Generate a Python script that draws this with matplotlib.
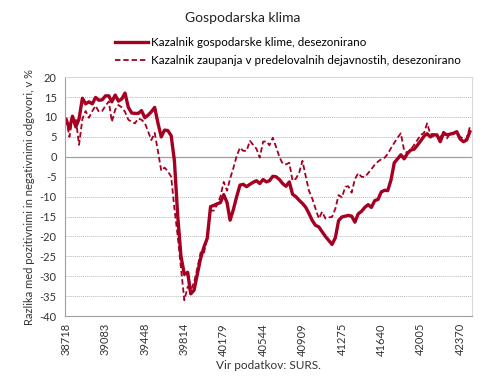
import matplotlib
matplotlib.use('Agg')
import matplotlib.pyplot as plt
import numpy as np
import pandas as pd

# mesečni podatki, januar 2006 - april 2016
meseci = pd.date_range('2006-01-01', periods=124, freq='MS')
x_serial = (meseci - pd.Timestamp('1899-12-30')).days.values  # Excel serijska števila

klima = [
    9.4, 7.0, 10.2, 7.5, 9.5, 14.7, 13.3, 13.8, 13.3, 14.9, 14.2, 14.3,
    15.3, 15.3, 13.8, 15.5, 14.0, 14.5, 16.0, 12.4, 11.0, 10.9, 10.9, 11.6,
    9.8, 10.5, 11.3, 12.4, 8.5, 5.0, 6.7, 6.6, 5.3, -1.0, -15.0, -25.0,
    -29.5, -29.0, -34.4, -33.5, -29.5, -25.5, -22.7, -20.5, -12.5, -12.2, -11.8, -11.5,
    -9.5, -11.5, -15.9, -13.2, -10.0, -7.1, -6.9, -7.5, -6.9, -6.4, -6.0, -6.7,
    -5.7, -6.3, -6.0, -4.9, -5.0, -5.7, -6.7, -7.4, -6.3, -9.4, -10.0, -10.9,
    -11.7, -12.7, -14.2, -16.0, -17.2, -17.6, -18.8, -20.0, -21.0, -22.0, -20.3, -16.0,
    -15.1, -14.9, -14.7, -14.9, -16.4, -14.3, -13.7, -12.7, -12.0, -12.7, -11.0, -10.7,
    -8.8, -8.4, -8.5, -5.8, -1.5, -0.5, 0.5, -0.5, 0.9, 1.7, 1.9, 2.9,
    4.0, 5.2, 5.8, 5.0, 5.5, 5.5, 3.8, 6.0, 5.5, 5.7, 5.9, 6.3,
    4.5, 3.8, 4.2, 6.3,
]

predelovalne = [
    9.5, 5.0, 9.8, 9.5, 3.0, 9.5, 11.5, 9.8, 11.5, 12.8, 11.3, 11.5,
    12.8, 13.9, 8.8, 11.8, 13.0, 12.4, 11.3, 9.3, 8.8, 8.4, 9.6, 9.3,
    8.5, 6.3, 4.2, 6.0, 1.5, -3.5, -2.7, -3.6, -5.0, -13.0, -20.0, -28.0,
    -36.0, -32.6, -33.5, -31.5, -28.0, -24.0, -24.3, -20.0, -13.5, -13.5, -12.0, -10.0,
    -6.3, -8.5, -5.5, -2.8, 0.2, 2.3, 1.5, 1.5, 4.0, 3.0, 2.0, -0.2,
    3.8, 3.9, 2.9, 4.8, 2.5, 0.0, -1.7, -1.9, -1.5, -6.0, -5.5, -4.0,
    -1.0, -5.0, -8.5, -10.5, -13.0, -15.5, -13.8, -15.5, -15.2, -15.1, -13.0, -9.6,
    -10.2, -7.5, -7.4, -9.0, -5.6, -4.1, -5.0, -5.1, -4.1, -3.1, -2.0, -1.2,
    -0.6, -0.2, 0.7, 2.2, 3.5, 4.8, 5.9, 1.5, 1.0, 1.8, 3.0, 4.2,
    5.5, 6.0, 8.4, 5.7, 5.7, 5.0, 4.8, 6.3, 4.6, 5.9, 6.0, 6.3,
    5.0, 4.6, 4.4, 7.5,
]

x_ticks = [38718, 39083, 39448, 39814, 40179, 40544, 40909, 41275, 41640, 42005, 42370]
y_ticks = list(range(-40, 21, 5))

barva = '#A50021'
plt.rcParams['font.family'] = ['Lato', 'DejaVu Sans']

fig = plt.figure(figsize=(4.9, 3.8), dpi=100)
ax = fig.add_axes([0.1327, 0.168, 0.83, 0.629])

ax.plot(x_serial, klima, color=barva, lw=2.4, solid_joinstyle='round',
        label='Kazalnik gospodarske klime, desezonirano')
ax.plot(x_serial, predelovalne, color=barva, lw=1.3, ls=(0, (3, 1.6)),
        label='Kazalnik zaupanja v predelovalnih dejavnostih, desezonirano')

ax.set_xlim(38708, 42478)
ax.set_ylim(-40, 20)
ax.set_xticks(x_ticks)
ax.set_xticklabels([str(t) for t in x_ticks], rotation=90, fontsize=8, color='#333333')
ax.set_yticks(y_ticks)
ax.set_yticklabels([str(t) for t in y_ticks], fontsize=8, color='#333333')
ax.tick_params(length=0, pad=6)
ax.tick_params(axis='x', pad=5)

for y in y_ticks:
    if y == 0:
        ax.axhline(0, color='#a0a0a0', lw=0.9, zorder=1)
    elif y not in (-40, 20):
        ax.axhline(y, color='#b8b8b8', lw=0.7, ls=(0, (1, 1)), zorder=1)

for side in ['left', 'bottom']:
    ax.spines[side].set_color('#a0a0a0')
for side in ['right', 'top']:
    ax.spines[side].set_color('#d9d9d9')

ax.set_ylabel('Razlika med pozitivnimi in negativnimi odgovori, v %', fontsize=8,
              color='#333333', labelpad=3)
ax.set_xlabel('Vir podatkov: SURS.', fontsize=8.5, color='#333333', labelpad=3)
fig.text(0.496, 0.952, 'Gospodarska klima', ha='center', va='center', fontsize=10, color='#222222')

fig.legend(loc='upper left', bbox_to_anchor=(0.235, 0.902), frameon=False, fontsize=8.4,
           handlelength=2.8, handletextpad=0.3, labelspacing=0.6,
           borderpad=0, borderaxespad=0)

fig.savefig('out.png', dpi=100)
